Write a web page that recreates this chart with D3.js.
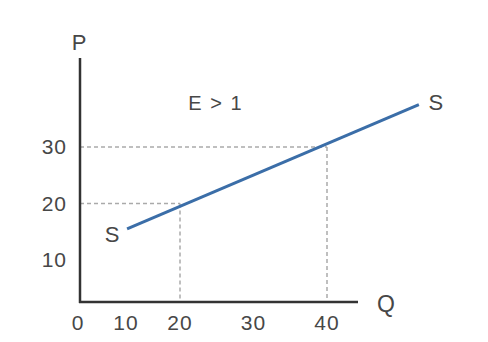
<!DOCTYPE html>
<html>
<head>
<meta charset="utf-8">
<script src="https://cdn.jsdelivr.net/npm/d3@7"></script>
<style>
  body { margin: 0; background: #fff; }
  text { font-family: "Liberation Sans", Arial, sans-serif; fill: #474747; }
</style>
</head>
<body>
<script>
var width = 488, height = 342;

// data
var qTicks = [0, 10, 20, 30, 40];
var pTicks = [10, 20, 30];
var supply = [{q: 10.2, p: 15.5}, {q: 52.5, p: 37.5}];   // S curve endpoints
var guides = [{q: 20, p: 20}, {q: 40, p: 30}];           // dotted projections
var elasticity = "E > 1";

// the hand-drawn axis is not evenly spaced, so use a piecewise scale
var x = d3.scaleLinear().domain([0, 10, 20, 40]).range([80, 126, 180, 327]);
var y = d3.scaleLinear().domain([10, 30]).range([260, 147]);

var x0 = 80, y0 = 302, xEnd = 358, yTop = 58;

var svg = d3.select("body").append("svg")
    .attr("width", width)
    .attr("height", height);

// dotted guides
guides.forEach(function(d) {
  svg.append("line")
      .attr("x1", x0).attr("x2", x(d.q))
      .attr("y1", y(d.p)).attr("y2", y(d.p))
      .attr("stroke", "#aaa").attr("stroke-width", 1.5)
      .attr("stroke-dasharray", "4,3");
  svg.append("line")
      .attr("x1", x(d.q)).attr("x2", x(d.q))
      .attr("y1", y(d.p)).attr("y2", y0)
      .attr("stroke", "#aaa").attr("stroke-width", 1.5)
      .attr("stroke-dasharray", "4,3");
});

// axes
svg.append("line")
    .attr("x1", x0).attr("x2", x0).attr("y1", yTop).attr("y2", y0 + 1)
    .attr("stroke", "#333").attr("stroke-width", 2.5);
svg.append("line")
    .attr("x1", x0 - 1).attr("x2", xEnd).attr("y1", y0).attr("y2", y0)
    .attr("stroke", "#333").attr("stroke-width", 2.5);

svg.selectAll(".qlab")
  .data(qTicks)
  .enter().append("text")
    .attr("class", "qlab")
    .attr("x", function(d) { return d === 0 ? x(d) - 2 : x(d); })
    .attr("y", 323)
    .attr("dy", "0.35em")
    .attr("text-anchor", "middle")
    .style("font-size", "21px")
    .style("letter-spacing", "1px")
    .text(function(d) { return d; });

svg.selectAll(".plab")
  .data(pTicks)
  .enter().append("text")
    .attr("class", "plab")
    .attr("x", 67)
    .attr("y", function(d) { return y(d); })
    .attr("dy", "0.35em")
    .attr("text-anchor", "end")
    .style("font-size", "21px")
    .style("letter-spacing", "1px")
    .text(function(d) { return d; });

svg.append("text")
    .attr("x", 79).attr("y", 42).attr("dy", "0.35em")
    .attr("text-anchor", "middle")
    .style("font-size", "22px")
    .text("P");
svg.append("text")
    .attr("x", 386).attr("y", 304).attr("dy", "0.35em")
    .attr("text-anchor", "middle")
    .style("font-size", "23px")
    .text("Q");

// supply line
var line = d3.line()
    .x(function(d) { return x(d.q); })
    .y(function(d) { return y(d.p); });

svg.append("path")
    .datum(supply)
    .attr("d", line)
    .attr("fill", "none")
    .attr("stroke", "#3b6ea8")
    .attr("stroke-width", 3);

svg.append("text")
    .attr("x", x(supply[0].q) - 15).attr("y", y(supply[0].p) + 5)
    .attr("dy", "0.35em")
    .attr("text-anchor", "middle")
    .style("font-size", "22px")
    .text("S");
svg.append("text")
    .attr("x", x(supply[1].q) + 17).attr("y", y(supply[1].p) - 2)
    .attr("dy", "0.35em")
    .attr("text-anchor", "middle")
    .style("font-size", "22px")
    .text("S");

svg.append("text")
    .attr("x", 215).attr("y", 103).attr("dy", "0.35em")
    .attr("text-anchor", "middle")
    .style("font-size", "20px")
    .style("word-spacing", "3px")
    .text(elasticity);
</script>
</body>
</html>
